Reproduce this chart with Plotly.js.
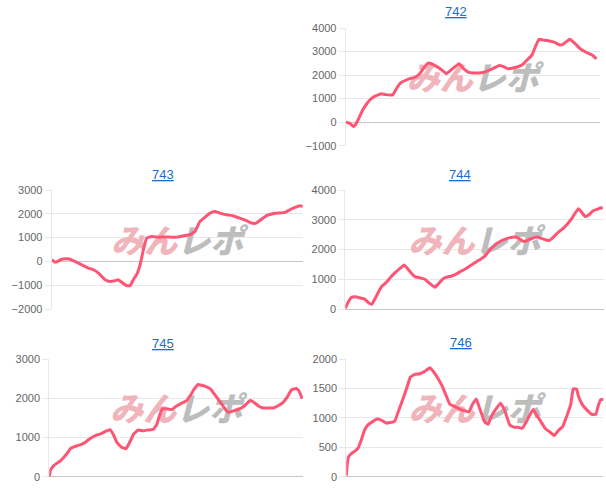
<!DOCTYPE html>
<html>
<head>
<meta charset="utf-8">
<script src="https://cdn.plot.ly/plotly-3.0.1.min.js"></script>
<style>html,body{margin:0;padding:0;background:#fff;}#chart{width:606px;height:498px;}</style>
</head>
<body>
<div id="chart"></div>
<script>
// ---- data (x = progress through session, 0..100; y = difference in medals) ----
const titles = ["742", "743", "744", "745", "746"];

const x742 = [0,1.6,3.1,4.2,5.5,6.8,8.1,9.4,10.8,12.3,14,15.7,18.6,19.9,21.5,23.2,25.2,27.2,29.1,30.7,32.4,33.7,35.7,37.7,39.6,41.6,43.6,44.6,46.2,48.2,50.1,52.1,54.1,56,58,60.2,61.9,63.9,65.9,68.2,69.8,71.8,73.4,74.7,76.1,77.7,80.3,82.3,84.3,85.6,86.9,88.2,90.2,92.1,94.1,96.1,97.4,98.7];
const y742 = [0,-50,-180,-50,250,540,750,930,1060,1140,1210,1170,1170,1410,1660,1760,1850,1900,2060,2300,2510,2480,2370,2230,2060,2230,2400,2480,2300,2130,2090,2090,2110,2180,2280,2400,2370,2270,2300,2370,2460,2680,2860,3210,3520,3490,3450,3390,3280,3310,3420,3520,3350,3140,3000,2900,2820,2680];

const x743 = [0,1.3,2.3,3.6,5.3,7,8.6,10.6,12.6,14.6,16.6,18.6,19.9,21.2,23.2,25.2,26.5,27.9,29.8,31.2,32.5,34.1,35.1,36.5,37.8,39.8,41.8,44.4,47.1,49.7,52.4,55,57,59,61,63,64.9,66.9,69.6,72.1,74.8,77.5,79.5,81.4,83.6,85.5,87.5,90.2,92.8,94.8,96.8,98.8,99.9];
const y743 = [70,-40,0,70,110,100,30,-70,-180,-280,-350,-490,-630,-770,-840,-810,-770,-880,-1020,-1020,-770,-490,-180,490,980,1050,1020,1020,1020,1020,1080,1120,1260,1680,1860,2030,2100,2030,1960,1920,1820,1710,1610,1610,1780,1920,1990,2030,2060,2170,2270,2340,2310];

const x744 = [0,1,2.3,3.6,5.5,7.5,9,10.3,11.4,12.9,14.2,15.7,17.2,18.8,20.4,21.7,22.8,24,25.6,26.9,28.8,30.8,32.7,34.7,36,37.7,39.2,41.2,43.1,45,47,48.9,50.8,52.8,54.5,56,58,59.9,61.9,63.8,65.7,67,69,70.5,72.2,74.1,75.7,77.4,78.9,80.6,82.5,84.5,86,87.7,89,90.3,91.3,92.9,94.4,96.1,98.1,99.7];
const y744 = [20,210,390,410,380,330,210,160,330,580,770,880,1030,1180,1310,1400,1480,1370,1200,1090,1050,1000,860,730,840,1000,1070,1110,1180,1280,1370,1480,1590,1700,1820,1990,2160,2270,2350,2400,2420,2380,2270,2300,2370,2420,2380,2330,2300,2420,2580,2720,2860,3040,3220,3370,3280,3110,3170,3310,3370,3410];

const x745 = [0,0.5,1.6,2.9,4.5,5.9,7.2,8.4,10.1,12.1,14.1,15.4,17.1,18.6,20.6,22.3,23.9,25.2,26.8,28.5,30.2,31.8,33.3,35,37,39,41,42.3,43.3,44.6,46.2,48.2,50.1,52.1,54.1,55.6,57.1,58.7,60,62,63.6,65.2,67.2,68.8,70.5,72.2,73.8,75.7,77.7,79,80.3,82.3,84.3,86.2,88.2,90.2,92.1,93.7,95.4,97.4,98.4,99.7];
const y745 = [0,170,270,340,410,510,610,720,770,810,870,940,1010,1060,1100,1160,1200,1080,860,750,710,890,1090,1190,1170,1190,1210,1320,1530,1730,1730,1710,1800,1870,1940,2070,2230,2350,2330,2290,2230,2090,1920,1770,1640,1670,1700,1750,1850,1940,1910,1810,1750,1750,1750,1810,1890,2020,2210,2250,2190,1990];

const x746 = [0,0.4,0.9,1.9,3.2,4.5,5.8,7.1,8.4,10.4,11.9,13.6,15.6,17.1,18.8,20.1,21.7,23.4,24.9,26.6,28.6,30.5,32.5,34,35.7,37.4,39,40.3,42.2,44.2,46.1,47.7,49.1,50.6,51.9,53.9,55.2,56.5,58.4,60,61.7,63.6,65.3,66.8,68.4,69.9,71.4,72.7,74,75.8,77.4,79.2,80.9,82.6,84.2,85.7,87.3,88.3,89.6,90.3,91.9,93.5,95.5,97.1,98,99,100.3];
const y746 = [20,230,340,390,430,480,620,790,880,940,980,960,910,920,940,1090,1280,1490,1690,1740,1750,1790,1850,1780,1670,1530,1360,1230,1190,1150,1120,1100,1230,1320,1160,930,890,1030,1160,1250,1120,880,840,840,820,920,1050,1140,1050,930,820,760,700,790,850,1020,1220,1490,1490,1370,1220,1140,1060,1060,1200,1310,1310];

const yRanges = [[-1000,4000],[-2000,3000],[0,4000],[0,3000],[0,2000]];
const yDtick = [1000,1000,1000,1000,500];
const xs = [x742,x743,x744,x745,x746];
const ys = [y742,y743,y744,y745,y746];

// ---- layout in pixels ----
const W = 606, H = 498;
const boxes = [ // [left, right, top, bottom] in px
  [345.7, 599.7, 28, 145.7],
  [51.7, 303, 190, 309],
  [345.3, 603.5, 190, 309],
  [49.3, 303, 359, 476.7],
  [346.3, 603.3, 359, 476.7]
];
const titlePos = [[456,11.5],[163,174.5],[460,174],[163,343],[461,342]];

const traces = [];
const layout = {
  width: W, height: H,
  margin: {l:0, r:0, t:0, b:0},
  paper_bgcolor: '#fff', plot_bgcolor: '#fff',
  showlegend: false,
  font: {family: 'Liberation Sans, Arial, sans-serif', size: 11, color: '#666'},
  annotations: []
};

const WM = '<i><span style="color:#f0b5bb">みん</span><span style="color:#bdbdbd">レポ</span></i>';

for (let i = 0; i < 5; i++) {
  const n = i === 0 ? '' : String(i + 1);
  const b = boxes[i];
  const xr = [0, 100];
  const yr = yRanges[i];
  // watermark (drawn beneath the line)
  const span = yr[1] - yr[0];
  traces.push({
    type: 'scatter', mode: 'text',
    x: [(xr[0] + xr[1]) / 2],
    y: [yr[0] + span * 0.54],
    text: [WM],
    textposition: 'middle center',
    textfont: {family: 'Noto Sans CJK JP', size: 33, weight: 900},
    hoverinfo: 'skip',
    xaxis: 'x' + n, yaxis: 'y' + n
  });
  traces.push({
    type: 'scatter', mode: 'lines',
    x: xs[i], y: ys[i],
    line: {color: '#ff5574', width: 3, shape: 'spline', smoothing: 0.3},
    hoverinfo: 'skip',
    xaxis: 'x' + n, yaxis: 'y' + n
  });
  layout['xaxis' + n] = {
    domain: [b[0] / W, b[1] / W],
    range: xr,
    anchor: 'y' + n,
    showgrid: false, zeroline: false, showline: false,
    showticklabels: false, ticks: '', fixedrange: true
  };
  layout['yaxis' + n] = {
    domain: [1 - b[3] / H, 1 - b[2] / H],
    range: yr,
    dtick: yDtick[i],
    tick0: 0,
    anchor: 'x' + n,
    showgrid: true, gridcolor: '#e8e8e8', gridwidth: 1,
    zeroline: true, zerolinecolor: '#c6c6c6', zerolinewidth: 1,
    showline: true, linecolor: '#e8e8e8', linewidth: 1,
    ticks: 'outside', ticklen: 6, tickcolor: '#e8e8e8',
    tickfont: {family: 'Liberation Sans, Arial, sans-serif', size: 11, color: '#666'},
    fixedrange: true
  };
  layout.annotations.push({
    text: '<u>' + titles[i] + '</u>',
    xref: 'paper', yref: 'paper',
    x: titlePos[i][0] / W, y: 1 - titlePos[i][1] / H,
    xanchor: 'center', yanchor: 'middle',
    showarrow: false,
    font: {family: 'Liberation Sans, Arial, sans-serif', size: 13, color: '#1a6dcc'}
  });
}

Plotly.newPlot('chart', traces, layout, {displayModeBar: false, staticPlot: true});
</script>
</body>
</html>
